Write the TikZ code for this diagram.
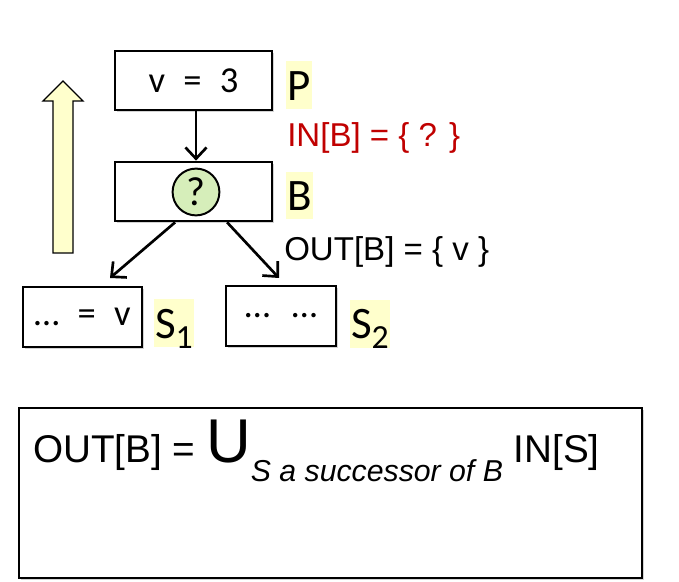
\documentclass[tikz,border=0pt]{standalone}
\usepackage{fontspec}
\setmainfont{Carlito}
\newfontfamily\arialfont{Liberation Sans}
\usetikzlibrary{positioning, shadows, arrows.meta, calc}

\definecolor{hlyellow}{RGB}{255,255,204}
\definecolor{qgreen}{RGB}{214,238,186}
\definecolor{inred}{RGB}{192,0,0}
\newcommand{\lsub}[1]{{\fontsize{24}{24}\selectfont\raisebox{-7pt}{#1}}}

\begin{document}
\begin{tikzpicture}[
    x=0.025cm, y=-0.025cm,
    blk/.style={rectangle, draw=black, line width=1.9pt, fill=white, minimum width=3.925cm, minimum height=1.475cm, font=\fontsize{26}{26}\selectfont, drop shadow={opacity=0.35, shadow xshift=0.05cm, shadow yshift=-0.05cm}},
    hl/.style={fill=hlyellow, inner sep=0pt, inner xsep=1pt, text height=27.5pt, text depth=6.5pt, font=\fontsize{32}{32}\selectfont},
    qcirc/.style={circle, draw=black, line width=1.4pt, fill=qgreen, minimum size=1.17cm, inner sep=0pt, font=\fontsize{29}{29}\selectfont},
    setlabel/.style={font=\arialfont\fontsize{23.5}{23.5}\selectfont, inner sep=0pt},
    arr/.style={-{Straight Barb[length=8pt, width=15pt]}, line width=1.9pt},
    uparrow/.style={draw=black, line width=0.9pt, fill=hlyellow}
  ]
    \useasboundingbox (0,0) rectangle (679,582);
    \node[blk] (P) at (193.5,80.5) {v\hspace{0.5em}=\hspace{0.5em}3};
    \node[blk] (B) at (193.5,191.5) {};
    \node[qcirc] (q) at (196,192) {?};
    \node[blk, minimum width=2.975cm, minimum height=1.5cm] (S1) at (82.5,317) {…\hspace{0.5em}=\hspace{0.5em}v};
    \node[blk, minimum width=2.75cm, minimum height=1.5cm] (S2) at (281,316) {…\hspace{0.6em}…};
    \node[hl, right=0.3cm of P, yshift=-0.12cm] (Plab) {P};
    \node[hl, right=0.3cm of B, yshift=-0.1cm] (Blab) {B};
    \node[hl, right=0.25cm of S1, yshift=-0.16cm] (S1lab) {S\lsub{1}};
    \node[hl, right=0.3cm of S2, yshift=-0.19cm] (S2lab) {S\lsub{2}};
    \node[setlabel, text=inred, anchor=base west] (inB) at (287,147) {IN[B] = \{ ? \}};
    \node[setlabel, anchor=base west] (outB) at (284,261) {OUT[B] = \{ v \}};
    \coordinate (s1top) at (110,278);
    \coordinate (s2top) at (279,278);
    \draw[arr] (P.south -| q) -- (B.north -| q);
    \draw[arr] ([xshift=-0.46cm]B.south) -- (s1top);
    \draw[arr] ([xshift=0.84cm]B.south) -- (s2top);
    % direction of the analysis
    \draw[uparrow] (53,253) -- (53,101) -- (43,101) -- (63,81) -- (83,101) -- (73,101) -- (73,253) -- cycle;
    % the rule
    \node[blk, minimum width=15.575cm, minimum height=4.25cm, line width=1.5pt] (rule) at (330.5,493) {};
    \node[anchor=base west, inner sep=0pt, font=\arialfont\fontsize{27.5}{27.5}\selectfont] (eq) at (33,463) {OUT[B] = {\fontsize{44}{44}\selectfont U}\raisebox{-13.5pt}{\fontsize{21.5}{21.5}\itshape\selectfont S a successor of B} IN[S]};
\end{tikzpicture}
\end{document}
